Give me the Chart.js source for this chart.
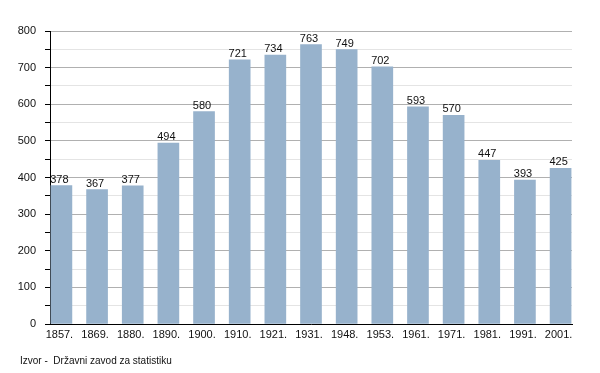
<!DOCTYPE html>
<html lang="hr">
<head>
<meta charset="UTF-8">
<title>Stanovništvo</title>
<script src="https://cdn.jsdelivr.net/npm/chart.js"></script>
<style>
  html, body { margin: 0; padding: 0; background: #fff; }
  #wrap { width: 600px; height: 373px; position: relative; }
</style>
</head>
<body>
<div id="wrap"><canvas id="chart" width="600" height="373"></canvas></div>
<script>
// godine popisa i broj stanovnika
const years = ['1857.', '1869.', '1880.', '1890.', '1900.', '1910.', '1921.', '1931.', '1948.', '1953.', '1961.', '1971.', '1981.', '1991.', '2001.'];
const population = [378, 367, 377, 494, 580, 721, 734, 763, 749, 702, 593, 570, 447, 393, 425];
const sourceText = 'Izvor -  Državni zavod za statistiku';

const FONT = '"Liberation Sans", Arial, sans-serif';
const FSIZE = 11;

const labelsPlugin = {
  id: 'barLabels',
  afterDatasetsDraw(chart) {
    const ctx = chart.ctx;
    const meta = chart.getDatasetMeta(0);
    ctx.save();
    ctx.font = FSIZE + 'px ' + FONT;
    ctx.fillStyle = '#111';
    ctx.textAlign = 'center';
    ctx.textBaseline = 'alphabetic';
    meta.data.forEach((bar, i) => {
      ctx.fillText(population[i], bar.x - 2, bar.y - 3);
    });
    ctx.restore();
  },
  afterDraw(chart) {
    const ctx = chart.ctx;
    ctx.save();
    ctx.font = '10px ' + FONT;
    ctx.fillStyle = '#111';
    ctx.textAlign = 'left';
    ctx.textBaseline = 'middle';
    ctx.fillText(sourceText, 20, 361);
    ctx.restore();
  }
};

new Chart(document.getElementById('chart'), {
  type: 'bar',
  data: {
    datasets: [{
      data: population.map((v, i) => ({ x: i, y: v })),
      backgroundColor: '#97b2cc',
      borderWidth: 0,
      barThickness: 21
    }]
  },
  options: {
    responsive: false,
    animation: false,
    layout: { padding: { top: 31, right: 28, left: 0, bottom: 0 } },
    plugins: { legend: { display: false }, tooltip: { enabled: false } },
    scales: {
      x: {
        type: 'linear',
        min: -0.32,
        max: 14.32,
        offset: false,
        grid: { display: false, drawTicks: false },
        border: { color: '#000', width: 1 },
        ticks: {
          stepSize: 1,
          includeBounds: false,
          color: '#111',
          font: { family: FONT, size: FSIZE },
          padding: 4,
          labelOffset: -2,
          maxRotation: 0,
          autoSkip: false,
          callback: (v) => years[v] ?? ''
        },
        afterFit(axis) { axis.height = 49; }
      },
      y: {
        min: 0,
        max: 800,
        grid: {
          color: (c) => (c.tick && c.tick.value % 100 === 0) ? '#b0b0b0' : '#e4e4e4',
          tickColor: '#000',
          tickLength: 5,
          lineWidth: 1
        },
        border: { color: '#000', width: 1 },
        ticks: {
          stepSize: 50,
          color: '#111',
          font: { family: FONT, size: FSIZE },
          padding: 9,
          callback: (v) => v % 100 === 0 ? v : ''
        },
        afterFit(axis) { axis.width = 50; }
      }
    }
  },
  plugins: [labelsPlugin]
});
</script>
</body>
</html>
